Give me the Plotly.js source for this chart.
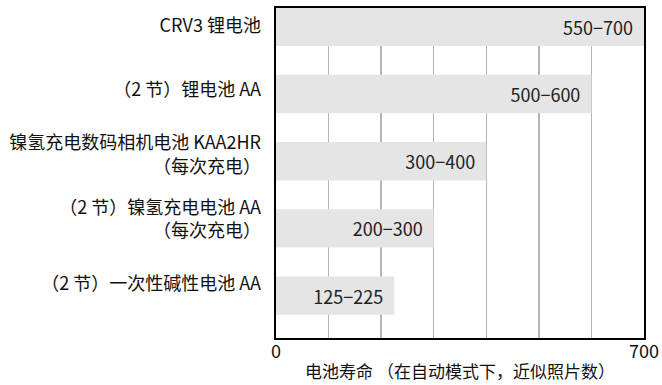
<!DOCTYPE html>
<html>
<head>
<meta charset="utf-8">
<script src="https://cdn.plot.ly/plotly-3.0.1.min.js"></script>
<style>
  html, body { margin: 0; padding: 0; background: #fff; }
  #chart { width: 662px; height: 385px; }
</style>
</head>
<body>
<div id="chart"></div>
<script>
// battery types, top to bottom
const batteries = [
  "CRV3 锂电池",
  "（2 节）锂电池 AA",
  "镍氢充电数码相机电池 KAA2HR<br>（每次充电）",
  "（2 节）镍氢充电电池 AA<br>（每次充电）",
  "（2 节）一次性碱性电池 AA"
];
// upper end of each range (bar length)
const shotsMax = [700, 600, 400, 300, 225];
// range labels shown in the bars
const shotRanges = ["550−700", "500−600", "300−400", "200−300", "125−225"];

const xTicks = [0, 100, 200, 300, 400, 500, 600, 700];
const xTickText = ["0", "", "", "", "", "", "", "700"];

const FONT = "'Noto Sans CJK SC', 'Noto Sans', sans-serif";

const bars = {
  type: "bar",
  orientation: "h",
  y: batteries,
  x: shotsMax,
  text: shotRanges.map(t => t + "\u00a0\u00a0"),
  textposition: "inside",
  insidetextanchor: "end",
  constraintext: "none",
  textfont: { family: FONT, size: 18, color: "#222" },
  marker: { color: "#e5e5e5", line: { width: 0 } },
  width: 0.57,
  hoverinfo: "skip"
};

// invisible trace that only carries the category labels (they sit a bit
// tighter than the bars in the original)
const labels = {
  type: "scatter",
  mode: "markers",
  y: batteries,
  x: shotsMax,
  yaxis: "y2",
  marker: { opacity: 0 },
  hoverinfo: "skip"
};

const layout = {
  width: 662,
  height: 385,
  margin: { l: 276, r: 18, t: 8, b: 47 },
  paper_bgcolor: "#fff",
  plot_bgcolor: "#fff",
  font: { family: FONT, size: 18, color: "#111" },
  showlegend: false,
  xaxis: {
    range: [0, 700],
    tickvals: xTicks,
    ticktext: xTickText,
    ticks: "",
    ticklabelstandoff: -4,
    showgrid: true,
    gridcolor: "#b4b4b4",
    gridwidth: 1.5,
    zeroline: false,
    showline: true,
    mirror: true,
    linecolor: "#000",
    linewidth: 2,
    tickfont: { size: 18, color: "#111" },
    title: { text: "电池寿命 （在自动模式下，近似照片数）", font: { size: 17, color: "#111" }, standoff: 5 }
  },
  yaxis: {
    type: "category",
    categoryorder: "array",
    categoryarray: batteries,
    range: [4.63, -0.28],
    showgrid: false,
    zeroline: false,
    showline: true,
    mirror: true,
    linecolor: "#000",
    linewidth: 2,
    ticks: "",
    showticklabels: false
  },
  yaxis2: {
    type: "category",
    overlaying: "y",
    side: "left",
    categoryorder: "array",
    categoryarray: batteries,
    range: [4.85, -0.276],
    showgrid: false,
    zeroline: false,
    showline: false,
    ticks: "",
    ticklabelstandoff: 14,
    tickfont: { size: 18, color: "#111" }
  }
};

Plotly.newPlot("chart", [bars, labels], layout, { displayModeBar: false, staticPlot: true });
</script>
</body>
</html>
